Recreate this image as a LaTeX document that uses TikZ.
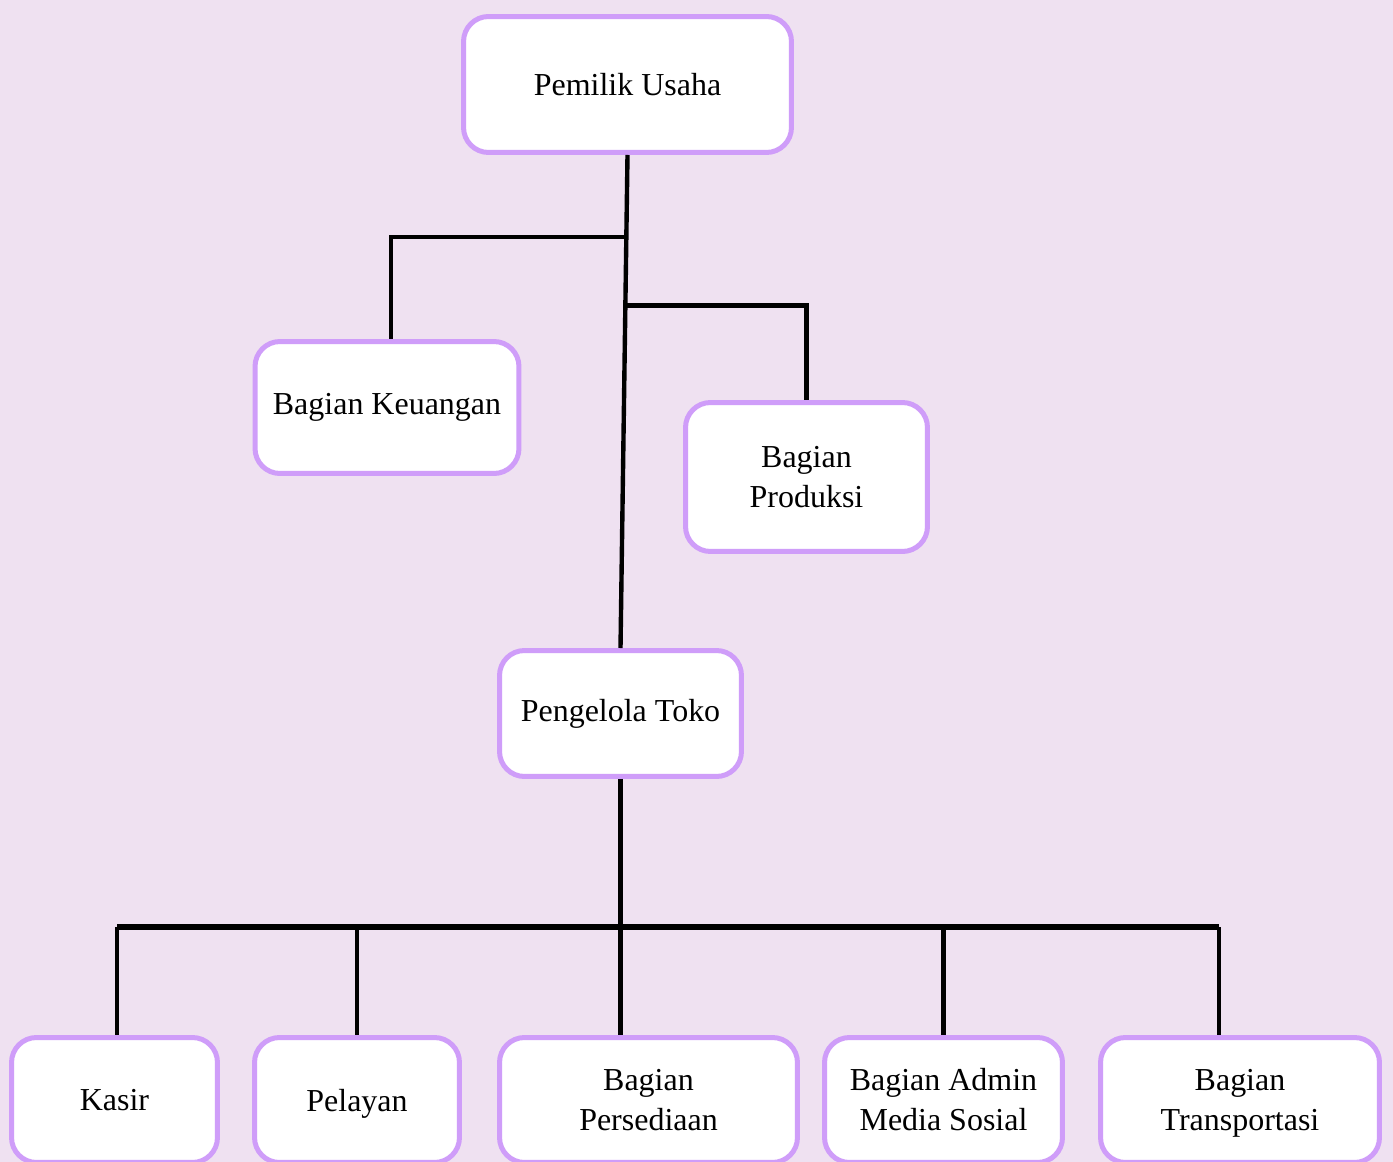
\documentclass[tikz,border=0pt]{standalone}
\usepackage{fontspec}
\setmainfont{Liberation Serif}
\usepackage{xcolor}
\usetikzlibrary{calc}
\usetikzlibrary{positioning}
\definecolor{latar}{HTML}{EFE1F1}
\definecolor{ungu}{HTML}{CF9DF9}

\begin{document}
\begin{tikzpicture}[x=0.02cm,y=-0.02cm,-,semithick]
		\tikzstyle{kotak}=[draw=ungu, line width=2.85pt, fill=white, rounded corners=0.5cm, align=center, inner sep=0pt, font=\fontsize{18.2}{22.8}\selectfont]
		\tikzstyle{garis}=[draw=black, line width=2.5pt]
		\fill[latar] (0,0) rectangle (1393,1162);
		\useasboundingbox (0,0) rectangle (1393,1162);
			% pimpinan
			\node[kotak, minimum width=6.56cm, minimum height=2.72cm] (pu) at (627.5,84.5) {Pemilik Usaha};
			\node[kotak, minimum width=5.28cm, minimum height=2.64cm] (ku) at (387,407.5) {Bagian Keuangan};
			\node[kotak, minimum width=4.84cm, minimum height=2.98cm] (pd) at (806.5,477) {Bagian\\Produksi};
			\node[kotak, minimum width=4.84cm, minimum height=2.52cm] (pt) at (620.5,713.5) {Pengelola Toko};
			% bawahan toko
			\node[kotak, minimum width=4.12cm, minimum height=2.5cm] (ks) at (114.5,1100) {Kasir};
			\node[kotak, minimum width=4.1cm, minimum height=2.5cm, text depth=0pt] (pl) at (357,1100) {Pelayan};
			\node[kotak, minimum width=5.96cm, minimum height=2.5cm] (ps) at (648.5,1100) {Bagian\\Persediaan};
			\node[kotak, minimum width=4.76cm, minimum height=2.5cm] (am) at (943.5,1100) {Bagian Admin\\Media Sosial};
			\node[kotak, minimum width=5.58cm, minimum height=2.5cm, text depth=0pt] (tr) at (1240,1100) {Bagian\\Transportasi};

			\coordinate (j1) at ($(pu.south)!0.166!(pt.north)$);
			\coordinate (j2) at ($(pu.south)!0.305!(pt.north)$);
			\coordinate (busL) at (117,927);
			\coordinate (busR) at (1219,927);

			\draw[garis] (pu.south) -- (pt.north);
			\draw[garis] (j1) -| ($(ku.north)+(4,0)$);
			\draw[garis] (j2) -| (pd.north);
			\draw[garis] (pt.south) -- (pt.south |- ps.north);
			\draw[garis, line width=2.9pt] (busL) -- (busR);
			\draw[garis] (busL) -- (busL |- ks.north);
			\draw[garis] (busR) -- (busR |- tr.north);
				\foreach \n in {pl,am}{
					\draw[garis] (\n.north |- busL) -- (\n.north);
					}
\end{tikzpicture}
\end{document}
